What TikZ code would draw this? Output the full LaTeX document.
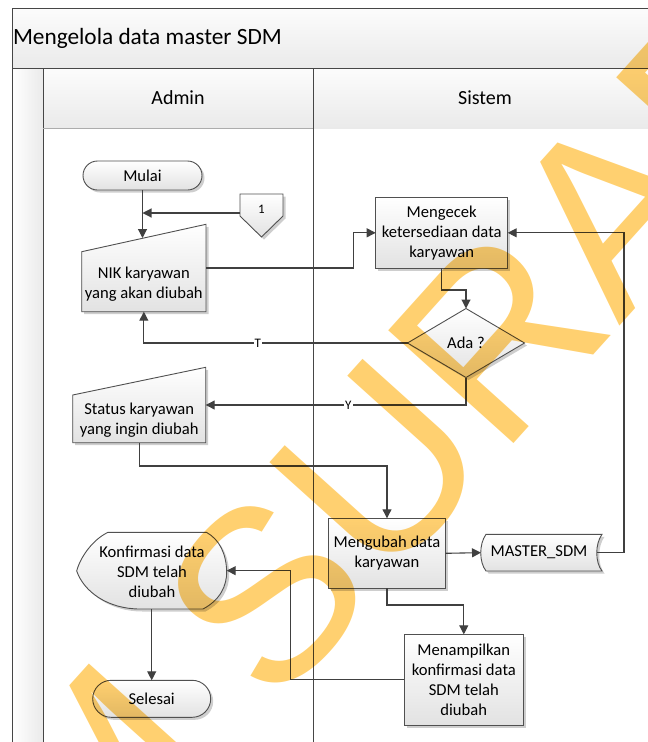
\documentclass[tikz,border=0pt]{standalone}
\usepackage{fontspec}
\setmainfont{Carlito}
\newfontfamily\wmfont{Liberation Sans}
\usetikzlibrary{arrows.meta,shapes.geometric,shapes.misc,shadows,calc}

\definecolor{linec}{RGB}{64,64,64}
\definecolor{edgec}{RGB}{80,80,80}
\definecolor{lanec}{RGB}{70,70,70}
\definecolor{boxbot}{RGB}{226,226,226}
\definecolor{bandtop}{RGB}{252,252,252}
\definecolor{bandbot}{RGB}{234,234,234}
\definecolor{wmc}{RGB}{255,208,112}

\newcommand\boxtextfont{\fontsize{16.6}{20}\selectfont}
\newcommand\lanetextfont{\fontsize{20}{24}\selectfont}
\newcommand\titletextfont{\fontsize{23.3}{28}\selectfont}
\newcommand\smalltextfont{\fontsize{13}{14}\selectfont}
\newcommand\wmtextfont{\wmfont\fontsize{245}{245}\selectfont}

\tikzset{
  every node/.style={inner sep=0pt, outer sep=0pt},
  boxfill/.style={top color=white, bottom color=boxbot, draw=edgec, line width=0.9pt},
  softshadow/.style={drop shadow={shadow xshift=2.5pt, shadow yshift=-2.5pt, fill=black!35, opacity=0.55}},
  proc/.style={rectangle, boxfill, softshadow, align=center, font=\boxtextfont},
  term/.style={rounded rectangle, boxfill, softshadow, font=\boxtextfont},
  decide/.style={diamond, boxfill, softshadow, font=\boxtextfont},
  hold/.style={rectangle, draw=none, fill=none},
  boxtext/.style={align=center, font=\boxtextfont},
  arr/.style={draw=linec, line width=1.1pt, -{Triangle[length=9pt,width=9pt]}},
  flowlabel/.style={fill=white, inner sep=1pt, font=\smalltextfont},
  lane/.style={draw=lanec, line width=1pt},
  wmark/.style={rotate=48, text=wmc, font=\wmtextfont}
}

\begin{document}
\begin{tikzpicture}[x=1pt,y=-1pt]
\useasboundingbox (0,0) rectangle (648,742);

% swimlane pool
\begin{scope}
  \clip (0,0) rectangle (648,742);
  \fill[top color=bandtop, bottom color=bandbot] (12,8) rectangle (670,68);
  \fill[top color=bandtop, bottom color=bandbot] (43,68) rectangle (670,128);
  \fill[left color=white, right color=bandbot] (12,68) rectangle (43,760);
  \draw[lane] (12,760) -- (12,8) -- (670,8);
  \draw[lane] (12,68) -- (670,68);
  \draw[lane] (43,68) -- (43,760);
  \draw[lane] (313,68) -- (313,760);
  \draw[draw=lanec!45, line width=1pt] (43,128) -- (313,128);
\end{scope}

\node[anchor=west, font=\titletextfont] (title) at (13,38) {Mengelola data master SDM};
\node[font=\lanetextfont] (admin) at (178,98) {Admin};
\node[font=\lanetextfont] (sistem) at (485,98) {Sistem};

% start / end
\node[term, minimum width=119pt, minimum height=29pt] (mulai) at (142.5,175.5) {Mulai};
\node[term, minimum width=118pt, minimum height=37pt] (selesai) at (151.7,698.8) {Selesai};

% off-page connector
\draw[boxfill, softshadow] (240,194) -- (283,194) -- (283,216) -- (261.5,237) -- (240,216) -- cycle;
\node[hold, minimum width=43pt, minimum height=22pt] (conn1) at (261.5,205) {};
\node[font=\smalltextfont] (conn1txt) at (261.5,209) {1};

% manual input: NIK
\draw[boxfill, softshadow] (81.7,311.7) -- (206,311.7) -- (206,224.3) -- (81.7,251.7) -- cycle;
\node[hold, minimum width=124.3pt, minimum height=87.4pt] (nik) at (143.85,268) {};
\node[boxtext] (niktxt) at (143.85,284.5) {NIK karyawan\\yang akan diubah};
\coordinate (niktop) at (143.85,238);

% manual input: status
\draw[boxfill, softshadow] (72.7,442.7) -- (205.7,442.7) -- (205.7,367.3) -- (72.7,395) -- cycle;
\node[hold, minimum width=133pt, minimum height=75.4pt] (status) at (139.2,405) {};
\node[boxtext] (statustxt) at (139.2,420) {Status karyawan\\yang ingin diubah};

% display: confirmation
\draw[boxfill, softshadow] (206.5,532.3) -- (108,532.3)
  .. controls (92,540) and (80,558) .. (76.7,571)
  .. controls (84,592) and (108,609) .. (140,609) -- (203,609)
  .. controls (220,600) and (227,586) .. (226.7,571)
  .. controls (226,554) and (220,540) .. (206.5,532.3) -- cycle;
\node[hold, minimum width=150pt, minimum height=76.7pt] (konf) at (151.7,570.65) {};
\node[boxtext] (konftxt) at (152,571.5) {Konfirmasi data\\SDM telah\\diubah};

% stored data
\draw[boxfill, softshadow] (486,534.3) -- (602,534.3)
  .. controls (595,544) and (595,562) .. (602,571) -- (486,571)
  .. controls (479,562) and (479,544) .. (486,534.3) -- cycle;
\node[hold, minimum width=116pt, minimum height=36.7pt, font=\boxtextfont] (master) at (539,552.65) {MASTER\_SDM};

% processes and decision
\node[proc, minimum width=132pt, minimum height=71pt] (mengecek) at (441.7,232.8) {Mengecek\\ketersediaan data\\karyawan};
\node[decide, minimum width=117pt, minimum height=69pt] (ada) at (466,343) {Ada ?};
\node[proc, minimum width=117.4pt, minimum height=70pt] (mengubah) at (387,553.3) {Mengubah data\\karyawan};
\node[proc, minimum width=119pt, minimum height=90.7pt] (tampil) at (463.8,679.7) {Menampilkan\\konfirmasi data\\SDM telah\\diubah};

% routing points
\coordinate (c1) at ($(conn1.west)+(0,8)$);
\coordinate (k1) at (353.3,250);
\coordinate (m1) at (441.7,290);
\coordinate (s1) at (139.2,466);
\coordinate (r1) at (624,400);
\coordinate (u1) at (387,605);
\coordinate (k2) at (290.7,620);

% connectors
\draw[arr] (mulai.south) -- (mulai.south |- niktop);
\draw[arr] (c1) -- (c1 -| mulai.south);
\draw[arr] (nik.east) -- (nik.east -| k1) -- (k1 |- mengecek.west) -- (mengecek.west);
\draw[arr] (mengecek.south) -- (m1) -| (ada.north);
\draw[arr] (ada.west) -| node[flowlabel, pos=0.284] {T} (nik.south);
\draw[arr] (ada.south) |- node[flowlabel, pos=0.726] {Y} (status.east);
\draw[arr] (status.south) -- (s1) -| (mengubah.north);
\draw[arr] (mengubah.east) -- (master.west);
\draw[arr] (master.east) -| (r1) |- (mengecek.east);
\draw[arr] (mengubah.south) -- (u1) -| (tampil.north);
\draw[arr] (tampil.west) -| (k2) |- (konf.east);
\draw[arr] (konf.south) -- (selesai.north);

% watermark
\begin{scope}
  \clip (0,0) rectangle (648,742);
  \begin{scope}[blend mode=multiply]
    \node[wmark, anchor=base west] (wm) at (273,711) {SURABAYA};
    \node[wmark, anchor=base east] (wm0) at (227.5,761.5) {STIKOM};
  \end{scope}
\end{scope}
\end{tikzpicture}
\end{document}
